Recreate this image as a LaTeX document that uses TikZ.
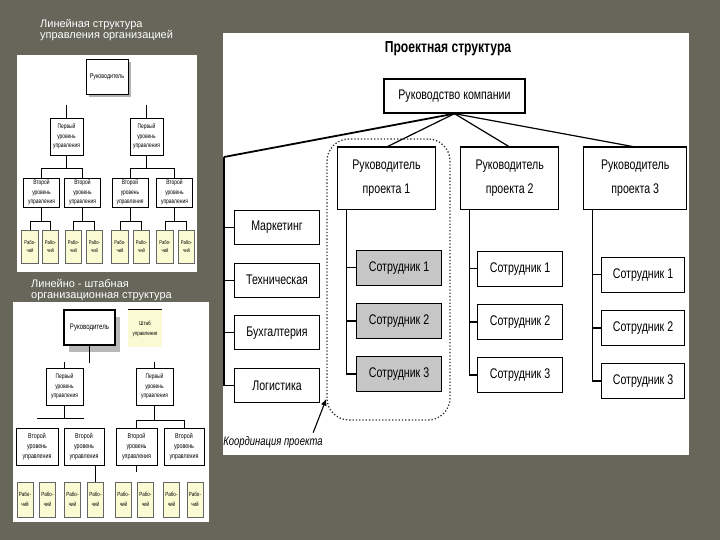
\documentclass[tikz,border=0pt]{standalone}
\usepackage{fontspec}
\setmainfont{Liberation Sans}
\newfontfamily\narrowfont[FakeStretch=0.76]{Liberation Sans}
\usetikzlibrary{arrows.meta, positioning, calc, shadows}
\definecolor{slidebg}{HTML}{66665A}
\definecolor{staffgray}{HTML}{C6C6C6}
\definecolor{workyellow}{HTML}{FBFBD3}
\tikzset{
    box/.style={rectangle, draw=black, line width=1.1bp, fill=white, inner sep=0pt, align=center, font=\narrowfont\fontsize{14}{16}\selectfont},
    mgrbox/.style={box, minimum width=98bp, minimum height=62bp, anchor=north west, font=\narrowfont\fontsize{14}{24}\selectfont},
    deptbox/.style={box, minimum width=85bp, minimum height=34bp},
    staffbox/.style={box, minimum width=85bp, minimum height=34.5bp},
    greystaff/.style={staffbox, fill=staffgray},
    link/.style={draw=black, line width=1.2bp},
    thicklink/.style={draw=black, line width=1.8bp},
    pointer/.style={-{Latex[length=7bp, width=6bp]}, line width=1.1bp, draw=black},
    groupline/.style={draw=black!80, dotted, line width=1.3bp, rounded corners=22bp},
    slidecaption/.style={text=white, align=left, inner sep=0pt, anchor=north west, font=\fontsize{11}{11.5}\selectfont},
    minibox/.style={rectangle, draw=black, line width=0.6bp, fill=white, inner sep=0pt, align=center, font=\narrowfont\fontsize{6.5}{9.5}\selectfont},
    workbox/.style={minibox, draw=black!60, fill=workyellow, font=\narrowfont\fontsize{5.5}{9}\selectfont},
    minilink/.style={draw=black, line width=0.6bp}
}

\begin{document}
\begin{tikzpicture}[x=1bp, y=-1bp, node distance=17.5bp and 24bp]
    \fill[slidebg] (0,0) rectangle (720,540);
    \fill[white] (17,55) rectangle (197,272);
    \fill[white] (13,302) rectangle (209,522);
    \fill[white] (223,33) rectangle (689,455);

    \node[slidecaption] (cap1) at (40,19) {Линейная структура\\управления организацией};
    \node[slidecaption] (cap2) at (31,279) {Линейно - штабная\\организационная структура};

    % linear structure
    \node[minibox, minimum width=42bp, minimum height=35bp, font=\narrowfont\fontsize{7}{8}\selectfont,
          drop shadow={shadow xshift=3bp, shadow yshift=-3bp, fill=black!30, opacity=1}] (lhead) at (107,76.5) {Руководитель};
    \node[minibox, minimum width=33bp, minimum height=37bp] (la1) at (66.5,136.5) {Первый\\уровень\\управления};
    \node[minibox, minimum width=33bp, minimum height=37bp] (la2) at (146.5,136.5) {Первый\\уровень\\управления};
    \draw[minilink] (la1.north) -- ++(0,-13);
    \draw[minilink] (la2.north) -- ++(0,-13);
    \foreach \n/\x in {1/41.5, 2/82.5, 3/130, 4/174.5}
        \node[minibox, minimum width=36bp, minimum height=29bp] (lb\n) at (\x,192.5) {Второй\\уровень\\управления};
    \draw[minilink] (la1.south) -- ++(0,13) -| (lb1.north);
    \draw[minilink] (la1.south) ++(0,13) -| (lb2.north);
    \draw[minilink] (la2.south) -- ++(0,13) -| (lb3.north);
    \draw[minilink] (la2.south) ++(0,13) -| (lb4.north);
    \foreach \n/\x in {1/30, 2/50.5, 3/73.5, 4/94.5, 5/120, 6/141.5, 7/165, 8/186.5}
        \node[workbox, minimum width=16.5bp, minimum height=33bp] (lw\n) at (\x,246.5) {Рабо-\\чий};
    \foreach \k/\a/\b in {1/1/2, 2/3/4, 3/5/6, 4/7/8} {
        \draw[minilink] (lb\k.south) -- ++(0,14) -| (lw\a.north);
        \draw[minilink] (lb\k.south) ++(0,14) -| (lw\b.north);
    }

    % line-staff structure
    \node[minibox, line width=1.3bp, minimum width=51bp, minimum height=35bp, font=\narrowfont\fontsize{8}{9}\selectfont,
          drop shadow={shadow xshift=5bp, shadow yshift=-7bp, fill=black!28, opacity=1}] (mhead) at (89.5,327.5) {Руководитель};
    \node[workbox, draw=none, minimum width=34bp, minimum height=37bp, font=\narrowfont\fontsize{6}{10}\selectfont] (staff) at (145,328.5) {Штаб\\управления};
    \draw[minilink] (staff.north west) -- (staff.north east);
    \draw[minilink] (mhead.south) -- ++(0,17);
    \node[minibox, minimum width=37bp, minimum height=37bp] (ma1) at (64.5,386.5) {Первый\\уровень\\управления};
    \node[minibox, minimum width=37bp, minimum height=37bp] (ma2) at (154.5,386.5) {Первый\\уровень\\управления};
    \draw[minilink] (ma1.north) -- ++(0,-6);
    \draw[minilink] (ma2.north) -- ++(0,-6);
    \foreach \n/\x/\w in {1/37/42, 2/84/40, 3/136.5/41, 4/184/40}
        \node[minibox, minimum width=\w bp, minimum height=37bp, font=\narrowfont\fontsize{7}{10}\selectfont] (mb\n) at (\x,446.5) {Второй\\уровень\\управления};
    \draw[minilink] (ma1.south) -- ++(0,13) coordinate (mh1);
    \draw[minilink] (mh1 -| mb1.north) -- (mh1 -| mb2.north);
    \draw[minilink] (ma2.south) -- ++(0,15) coordinate (mh2);
    \draw[minilink] (mb3.north) |- (mh2) -| (mb4.north);
    \foreach \n/\x in {1/25, 2/47.5, 3/72.5, 4/95.5, 5/123.5, 6/145.5, 7/171.5, 8/195}
        \node[workbox, minimum width=16bp, minimum height=35bp, font=\narrowfont\fontsize{6}{10}\selectfont] (mw\n) at (\x,499.5) {Рабо-\\чий};
    \draw[minilink] (mw4.north) -- (mw4.north |- mb2.south);
    \draw[minilink] (mb3.south) -- ++(0,7);

    % project structure
    \node[font=\narrowfont\bfseries\fontsize{16}{18}\selectfont] (title) at (448,49) {Проектная структура};
    \node[box, line width=1.3bp, minimum width=141bp, minimum height=34bp,
          drop shadow={shadow xshift=1.3bp, shadow yshift=-1.3bp, fill=black, opacity=1}] (board) at (454.5,96) {Руководство компании};
    \node[groupline, minimum width=123bp, minimum height=281bp] (grp) at (388.5,279.5) {};
    \node[mgrbox] (pm1) at (337,147) {Руководитель\\проекта 1};
    \node[mgrbox, right=of pm1] (pm2) {Руководитель\\проекта 2};
    \node[mgrbox, right=of pm2, minimum width=103bp] (pm3) {Руководитель\\проекта 3};
    \foreach \p in {pm1,pm2,pm3}
        \draw[line width=2.6bp] (\p.north west) -- (\p.north east);

    \coordinate (deptbus) at (224,157);
    \draw[thicklink] (board.south) -- (deptbus);
    \foreach \p in {pm1,pm2,pm3}
        \draw[link] (board.south) -- (\p.north);

    \node[deptbox, anchor=north west] (mark) at (234,210) {Маркетинг};
    \node[deptbox, below=of mark] (tech) {Техническая};
    \node[deptbox, below=of tech] (acct) {Бухгалтерия};
    \node[deptbox, below=of acct] (logi) {Логистика};
    \draw[link] (deptbus) |- (logi.west);
    \foreach \d in {mark,tech,acct}
        \draw[link] (deptbus |- \d.west) -- (\d.west);

    \node[greystaff, anchor=north west] (s11) at (356,250) {Сотрудник 1};
    \node[greystaff, below=of s11] (s12) {Сотрудник 2};
    \node[greystaff, below=of s12] (s13) {Сотрудник 3};
    \node[staffbox, anchor=north west] (s21) at (477,251) {Сотрудник 1};
    \node[staffbox, below=of s21] (s22) {Сотрудник 2};
    \node[staffbox, below=of s22] (s23) {Сотрудник 3};
    \node[staffbox, anchor=north west, minimum width=83bp] (s31) at (601,257) {Сотрудник 1};
    \node[staffbox, below=of s31, minimum width=83bp] (s32) {Сотрудник 2};
    \node[staffbox, below=of s32, minimum width=83bp] (s33) {Сотрудник 3};
    \foreach \c in {1,2,3} {
        \draw[link] ($(pm\c.south west)+(9.5,0)$) coordinate (bus\c) |- (s\c3.west);
        \draw[link] (bus\c |- s\c1.west) -- (s\c1.west);
        \draw[link] (bus\c |- s\c2.west) -- (s\c2.west);
    }

    \node[font=\narrowfont\itshape\fontsize{12.5}{14}\selectfont] (coordlbl) at (273,442) {Координация проекта};
    \coordinate (coordtip) at ($(grp.south west)+(0,-22)$);
    \draw[pointer] ($(coordlbl.north east)+(-13,0)$) -- (coordtip);
\end{tikzpicture}
\end{document}
